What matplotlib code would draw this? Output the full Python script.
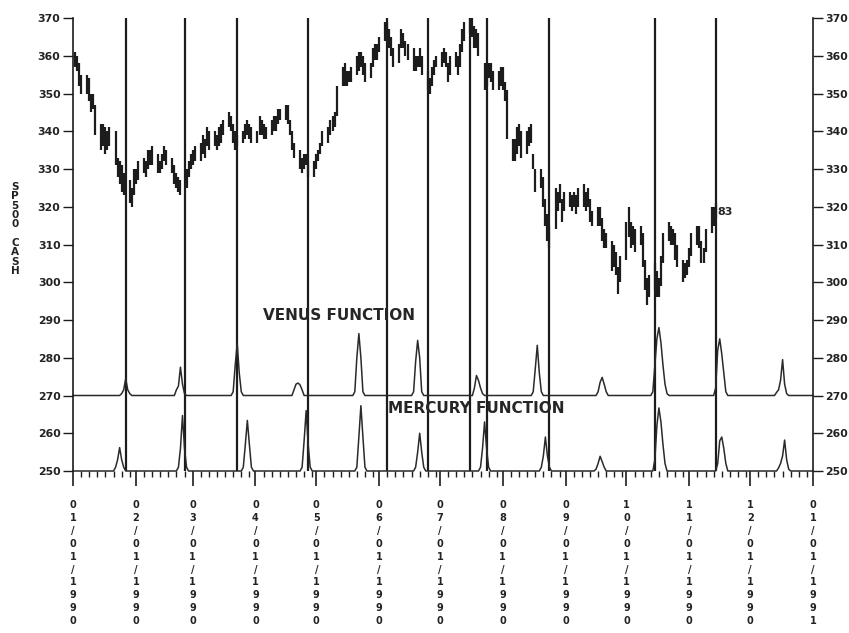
import matplotlib
matplotlib.use("Agg")
import matplotlib.pyplot as plt
import matplotlib.dates as mdates
from matplotlib.ticker import FuncFormatter
import pandas as pd

plt.rcParams['font.family'] = ['DejaVu Sans']
plt.rcParams['font.weight'] = 'bold'

# S&P 500 cash, daily high / low (business days Jan 2 .. Nov 14, 1990), one row per week
spx_high = [
    361, 360, 358, 355,
    355, 354, 350, 350, 347,
    342, 342, 341, 340, 341,
    340, 333, 332, 331, 329,
    327, 325, 330, 330, 332,
    333, 332, 335, 335, 336,
    334, 332, 334, 336, 335,
    333, 331, 329, 328, 327,
    330, 332, 334, 335, 336,
    337, 339, 338, 341, 340,
    340, 339, 341, 342, 343,
    345, 344, 342, 340, 339,
    340, 342, 343, 342, 341,
    340, 344, 343, 342, 341,
    343, 344, 344, 346, 346,
    347, 347, 343, 340, 337,
    335, 333, 334, 334, 332,
    332, 334, 335, 337, 340,
    341, 343, 344, 345, 352,
    357, 358, 356, 356, 357,
    360, 361, 361, 360, 358,
    358, 362, 363, 363, 365,
    369, 369, 367, 365, 362,
    363, 367, 366, 364, 363,
    362, 360, 360, 362, 360,
    356, 354, 357, 359, 360,
    361, 362, 361, 358, 360,
    361, 360, 363, 367, 369,
    370, 370, 368, 367, 366,
    358, 357, 358, 358, 356,
    356, 357, 357, 353, 351,
    338, 338, 341, 342, 340,
    340, 341, 342, 334, 330,
    330, 328, 322, 318, 315,
    325, 324, 326, 322, 324,
    324, 323, 324, 323, 325,
    326, 324, 325, 322, 319,
    320, 320, 317, 314, 313,
    311, 310, 308, 304, 307,
    316, 320, 316, 315, 314,
    315, 313, 306, 301, 302,
    305, 303, 301, 307, 313,
    316, 315, 314, 313, 310,
    306, 305, 306, 309, 313,
    315, 315, 311, 309, 314,
    320, 320, 321,
]
spx_low = [
    357, 356, 352, 350,
    350, 348, 345, 346, 339,
    335, 336, 334, 335, 336,
    331, 328, 326, 324, 323,
    321, 320, 323, 326, 327,
    329, 328, 330, 331, 331,
    329, 329, 330, 332, 331,
    329, 326, 325, 324, 323,
    325, 328, 330, 331, 332,
    332, 334, 333, 336, 335,
    336, 335, 336, 337, 339,
    341, 340, 337, 335, 336,
    337, 338, 339, 338, 337,
    337, 339, 339, 338, 338,
    339, 340, 340, 342, 343,
    343, 342, 339, 335, 333,
    330, 329, 330, 331, 328,
    328, 330, 332, 334, 336,
    337, 339, 340, 341, 344,
    352, 352, 352, 353, 353,
    355, 356, 357, 355, 353,
    354, 357, 359, 359, 361,
    364, 364, 362, 360, 357,
    358, 362, 362, 360, 359,
    356, 356, 357, 357, 355,
    351, 350, 352, 355, 357,
    357, 358, 357, 353, 355,
    357, 355, 357, 361, 364,
    366, 365, 362, 362, 360,
    351, 352, 354, 353, 351,
    351, 352, 351, 348, 338,
    332, 332, 334, 336, 333,
    334, 336, 337, 330, 324,
    325, 320, 315, 311, 309,
    314, 319, 321, 316, 319,
    320, 319, 320, 318, 320,
    320, 319, 320, 316, 315,
    315, 315, 311, 309, 309,
    303, 304, 302, 297, 300,
    306, 312, 309, 310, 308,
    310, 304, 298, 294, 296,
    298, 296, 296, 299, 305,
    311, 310, 310, 306, 304,
    300, 301, 302, 304, 307,
    310, 309, 305, 305, 308,
    313, 315, 317,
]

# dates of the vertical event lines
event_dates = ["1990-01-27", "1990-02-25", "1990-03-23", "1990-04-27", "1990-06-05",
               "1990-06-25", "1990-07-16", "1990-07-24", "1990-08-24", "1990-10-15",
               "1990-11-14"]

# Venus function: baseline 270, each peak = first day + daily values
venus_base = 270
venus_start = ["1990-01-25", "1990-02-21", "1990-03-21", "1990-04-20", "1990-05-20",
               "1990-06-18", "1990-07-18", "1990-08-16", "1990-09-17", "1990-10-14",
               "1990-11-14", "1990-12-14"]
venus_shape = [
    [270.5, 271.5, 274.5, 271.5, 270.5],
    [271.5, 272.5, 277.5, 273, 270.5],
    [271, 278, 283.8, 276, 271],
    [271.5, 273, 273.3, 272.8, 271.5],
    [271, 280, 286.4, 280, 271],
    [271, 279, 284.6, 280, 271],
    [272, 275.3, 274, 272, 270.5],
    [271, 277, 283.3, 276, 271],
    [271, 273.5, 274.8, 273, 271],
    [271, 278, 285, 288, 284, 278, 273, 270.5],
    [272, 282, 285, 281, 276, 271],
    [270.8, 271.5, 274, 279.5, 273, 270.5],
]

# Mercury function: baseline 250
mercury_base = 250
mercury_start = ["1990-01-22", "1990-02-22", "1990-03-26", "1990-04-24", "1990-05-21",
                 "1990-06-19", "1990-07-21", "1990-08-20", "1990-09-16", "1990-10-15",
                 "1990-11-15", "1990-12-15"]
mercury_shape = [
    [251, 253, 256.2, 253, 251],
    [251, 256, 264.7, 256, 251],
    [251, 257, 263.4, 257, 251],
    [251, 258, 266, 257, 251],
    [251, 259, 267.3, 259, 251],
    [251, 255, 260, 255, 251],
    [251, 256, 263, 256, 251],
    [251, 254, 259, 254, 251],
    [250.5, 252, 253.9, 252.5, 251],
    [253, 262, 266.7, 263, 257, 252],
    [252, 258, 259, 256, 252],
    [250.8, 252, 254, 258.2, 253, 250.5],
]

y_ticks = list(range(250, 371, 10))

start = pd.Timestamp("1990-01-01")
end = pd.Timestamp("1991-01-01")
ink = '#1c1c1c'


def function_line(base, starts, shapes):
    xs = [start]
    ys = [base]
    for s, vals in zip(starts, shapes):
        s = pd.Timestamp(s)
        xs.append(s - pd.Timedelta(days=1))
        ys.append(base)
        for i, v in enumerate(vals):
            xs.append(s + pd.Timedelta(days=i))
            ys.append(v)
        xs.append(s + pd.Timedelta(days=len(vals)))
        ys.append(base)
    xs.append(end)
    ys.append(base)
    return mdates.date2num(pd.to_datetime(xs).to_pydatetime()), ys


fig = plt.figure(figsize=(8.49, 6.33), dpi=100)
ax = fig.add_axes([73 / 849, 1 - 471 / 633, 740 / 849, (471 - 18) / 633])

days = pd.bdate_range("1990-01-02", "1990-11-14")
assert len(days) == len(spx_high) == len(spx_low)
day_num = mdates.date2num(days.to_pydatetime())
ax.vlines(day_num, spx_low, spx_high, color=ink, lw=1.6)

ev = mdates.date2num(pd.to_datetime(event_dates).to_pydatetime())
ax.vlines(ev, 250, 370, color=ink, lw=1.6, clip_on=False)

vx, vy = function_line(venus_base, venus_start, venus_shape)
ax.plot(vx, vy, color='#2a2a2a', lw=1.1, clip_on=False)
mx, my = function_line(mercury_base, mercury_start, mercury_shape)
ax.plot(mx, my, color='#2a2a2a', lw=1.1, clip_on=False)

ax.text(mdates.date2num(pd.Timestamp("1990-05-12")), 291.2, "VENUS FUNCTION",
        ha='center', va='center', fontsize=11, fontweight='bold', color='#262626')
ax.text(mdates.date2num(pd.Timestamp("1990-07-19")), 266.6, "MERCURY FUNCTION",
        ha='center', va='center', fontsize=11, fontweight='bold', color='#262626')
ax.text(mdates.date2num(pd.Timestamp("1990-11-15")), 318.5, "83",
        ha='left', va='center', fontsize=8, fontweight='bold', color='#262626')

ax.set_xlim(mdates.date2num(start), mdates.date2num(end))
ax.set_ylim(250, 370)

for side in ['top', 'bottom']:
    ax.spines[side].set_visible(False)
for side in ['left', 'right']:
    ax.spines[side].set_color(ink)
    ax.spines[side].set_linewidth(1.2)

ax.set_yticks(y_ticks)
ax.tick_params(axis='y', direction='out', length=7, width=1, color=ink,
               labelsize=7.8, pad=2, left=True, right=True,
               labelleft=True, labelright=True, labelcolor='#222')

ax.xaxis.set_major_locator(mdates.MonthLocator(bymonthday=1))
ax.xaxis.set_minor_locator(mdates.DayLocator(bymonthday=[5, 9, 13, 17, 21, 25, 29]))
ax.xaxis.set_major_formatter(FuncFormatter(
    lambda x, pos: '\n'.join(mdates.num2date(x).strftime('%m/%d/%Y'))))
ax.tick_params(axis='x', which='major', direction='out', length=11, width=1.2,
               color=ink, labelsize=7, pad=10, labelcolor='#222')
ax.tick_params(axis='x', which='minor', direction='out', length=4, width=1, color=ink)

fig.text(15 / 849, 1 - 229 / 633, "S\nP\n5\n0\n0\n \nC\nA\nS\nH",
         ha='center', va='center', fontsize=7.5, fontweight='bold',
         linespacing=0.92, color='#222')

fig.canvas.draw()
for t in ax.get_xticklabels():
    t.set_linespacing(1.36)

fig.savefig("out.png", dpi=100, facecolor='white')
